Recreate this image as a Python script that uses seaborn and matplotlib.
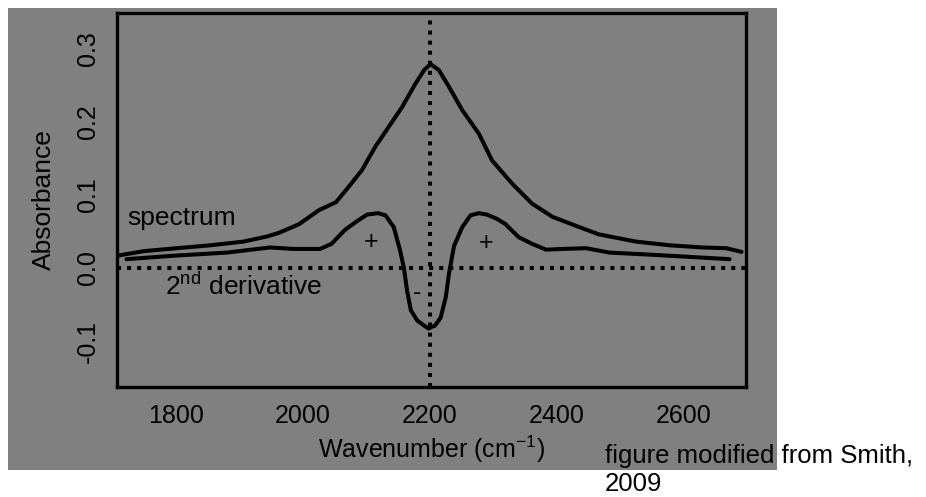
import matplotlib
matplotlib.use("Agg")
import matplotlib.pyplot as plt
import matplotlib.patches as mpatches
import seaborn as sns
import pandas as pd

# ---- data ----
spec_x = [1709, 1749, 1801, 1854, 1906, 1943, 1962, 1994, 2025, 2052, 2072, 2093, 2114,
          2135, 2156, 2177, 2191, 2201, 2214, 2230, 2251, 2277, 2298, 2330, 2361, 2393,
          2435, 2466, 2525, 2578, 2630, 2667, 2691]
spec_y = [0.017, 0.023, 0.027, 0.031, 0.036, 0.043, 0.048, 0.060, 0.079, 0.090, 0.111, 0.134, 0.166,
          0.193, 0.220, 0.252, 0.271, 0.279, 0.271, 0.248, 0.216, 0.184, 0.147, 0.115, 0.088, 0.070,
          0.056, 0.046, 0.036, 0.031, 0.028, 0.027, 0.022]

deriv_x = [1722, 1801, 1880, 1948, 1985, 2027, 2045, 2066, 2085, 2101, 2118, 2130, 2143,
           2153, 2159, 2164, 2170, 2180, 2191, 2198, 2202, 2208, 2217, 2225, 2230, 2238, 2251,
           2264, 2277, 2290, 2306, 2319, 2340, 2361, 2383, 2408, 2446, 2483, 2551, 2672]
deriv_y = [0.012, 0.017, 0.021, 0.028, 0.026, 0.026, 0.033, 0.052, 0.064, 0.073, 0.075, 0.072, 0.056,
           0.024, 0.000, -0.031, -0.058, -0.072, -0.079, -0.083, -0.081, -0.079, -0.068, -0.040, -0.008,
           0.030, 0.056, 0.072, 0.075, 0.073, 0.067, 0.060, 0.042, 0.033, 0.025, 0.026, 0.027, 0.021,
           0.018, 0.012]

x_ticks = [1800, 2000, 2200, 2400, 2600]
y_ticks = [-0.1, 0.0, 0.1, 0.2, 0.3]
y_tick_labels = ["-0.1", "0.0", "0.1", "0.2", "0.3"]
peak_x = 2200

df = pd.concat([
    pd.DataFrame({"wn": spec_x, "abs": spec_y, "series": "spectrum"}),
    pd.DataFrame({"wn": deriv_x, "abs": deriv_y, "series": "2nd derivative"}),
])

sns.set_style("white")
plt.rcParams["font.family"] = ["Liberation Sans", "DejaVu Sans"]
plt.rcParams["axes.unicode_minus"] = False
plt.rcParams["text.color"] = "black"
plt.rcParams["axes.labelcolor"] = "black"
plt.rcParams["xtick.color"] = "black"
plt.rcParams["ytick.color"] = "black"
plt.rcParams["mathtext.default"] = "regular"

W, H = 926, 497
fig = plt.figure(figsize=(W / 100, H / 100), dpi=100, facecolor="white")

GRAY = "#808080"
# gray panel behind the chart
fig.patches.append(mpatches.Rectangle((8 / W, 1 - 470 / H), (777 - 8) / W, (470 - 8) / H,
                                      transform=fig.transFigure, facecolor=GRAY,
                                      edgecolor="none", zorder=-10))

ax = fig.add_axes([117 / W, 1 - 387 / H, (746 - 117) / W, (387 - 13) / H])
ax.set_zorder(2)
ax.set_facecolor(GRAY)

sns.lineplot(data=df, x="wn", y="abs", units="series", estimator=None, sort=False,
             color="black", linewidth=2.9, ax=ax, legend=False)
for ln in ax.get_lines():
    ln.set_solid_joinstyle("round")

dot = (0, (1, 1.5))
ax.axhline(0, color="black", linewidth=2.9, linestyle=dot, dash_capstyle="butt")
ax.axvline(peak_x, color="black", linewidth=2.9, linestyle=dot, dash_capstyle="butt")

ax.set_xlim(1707, 2698)
ax.set_ylim(-0.163, 0.349)
ax.set_xticks(x_ticks)
ax.set_xticklabels([str(v) for v in x_ticks])
ax.set_yticks(y_ticks)
ax.set_yticklabels(y_tick_labels, rotation=90, va="center")
ax.tick_params(axis="both", length=0, labelsize=18, labelcolor="black")
ax.tick_params(axis="x", pad=12)
ax.tick_params(axis="y", pad=12)

for s in ax.spines.values():
    s.set_visible(True)
    s.set_color("black")
    s.set_linewidth(2.4)

ax.set_xlabel("Wavenumber (cm$^{-1}$)", fontsize=18, labelpad=4, color="black")
ax.set_ylabel("Absorbance", fontsize=19, labelpad=15, color="black")

ax.text(1724, 0.068, "spectrum", fontsize=19, va="center", ha="left", color="black")
ax.text(1783, -0.026, "2$^{nd}$ derivative", fontsize=19, va="center", ha="left", color="black")
ax.text(2108, 0.036, "+", fontsize=18, va="center", ha="center", color="black")
ax.text(2288, 0.034, "+", fontsize=18, va="center", ha="center", color="black")
ax.text(2180, -0.034, "-", fontsize=18, va="center", ha="center", color="black")

fig.text(605 / W, 1 - 463 / H, "figure modified from Smith,", fontsize=18.5,
         ha="left", va="baseline", color="black", zorder=5)
fig.text(605 / W, 1 - 491 / H, "2009", fontsize=18.5,
         ha="left", va="baseline", color="black", zorder=5)

fig.savefig("out.png", dpi=100, facecolor="white")
